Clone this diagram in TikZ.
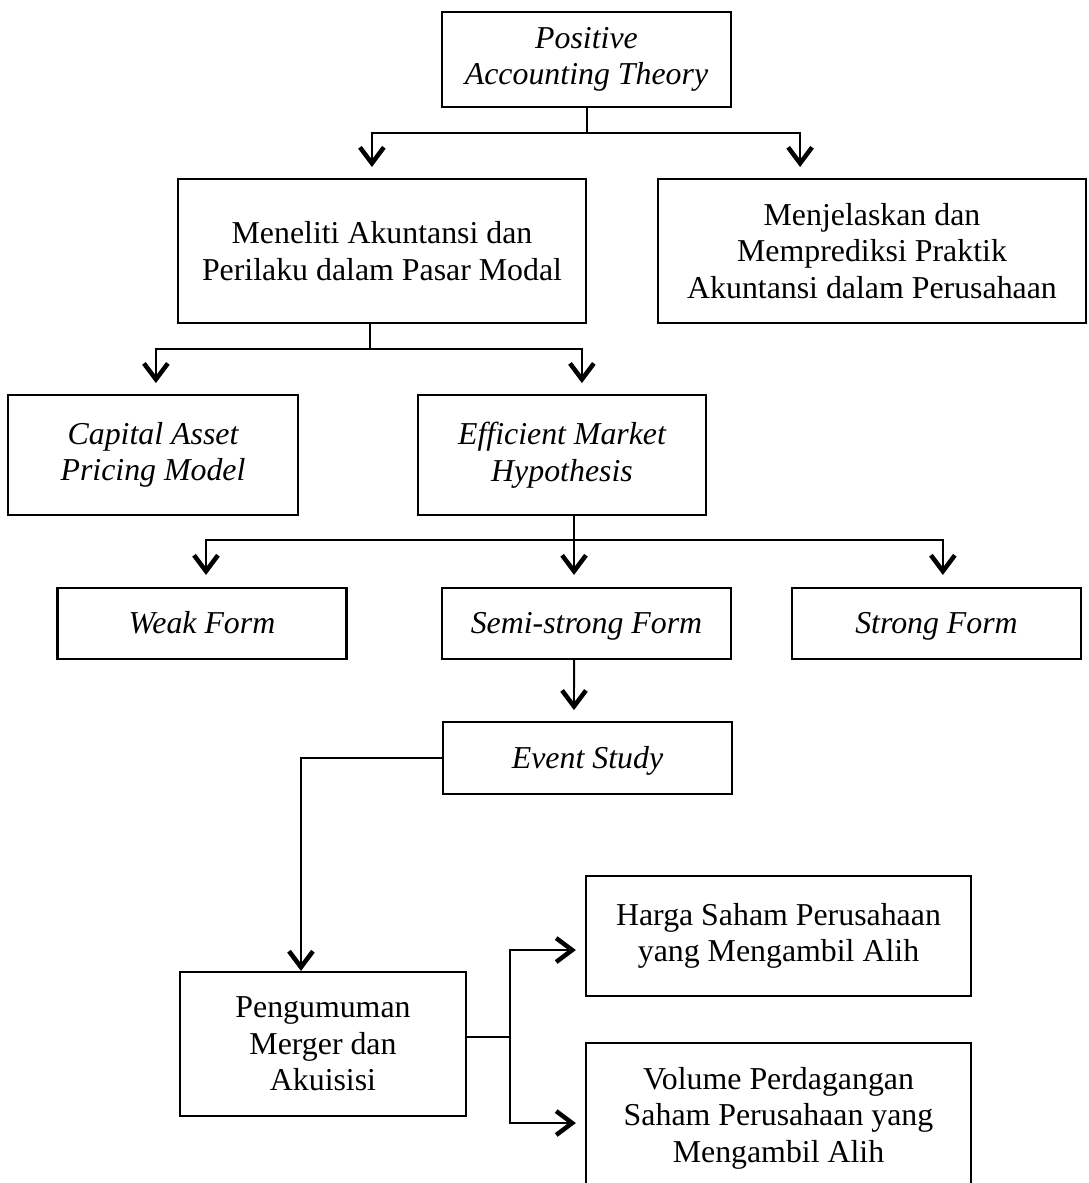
\documentclass[tikz,border=0pt]{standalone}
\usepackage{fontspec}
\setmainfont{Liberation Serif}
\usetikzlibrary{arrows.meta}

\begin{document}
\begin{tikzpicture}[
    x=0.3768pt, y=-0.3768pt,
    box/.style={rectangle, draw, line width=0.8pt, align=center, inner sep=2pt, font=\fontsize{12}{13.8}\selectfont},
    ibox/.style={box, font=\fontsize{12}{13.8}\selectfont\itshape},
    formbox/.style={ibox, text height=10pt, text depth=2.4pt},
    arrow/.style={-{Straight Barb[length=6pt, width=9pt, line width=1.7pt]}, line width=0.75pt}
]
    \useasboundingbox (0,0) rectangle (1088,1183);
    \clip (0,0) rectangle (1088,1183);

    \node[ibox, minimum width=108.9pt, minimum height=35.8pt] (pat) at (586.5,59.5) {Positive\\Accounting Theory};
    \node[box, minimum width=153.7pt, minimum height=54.3pt] (meneliti) at (382,251) {Meneliti Akuntansi dan\\Perilaku dalam Pasar Modal};
    \node[box, minimum width=161.3pt, minimum height=54.3pt] (menjelaskan) at (872,251) {Menjelaskan dan\\Memprediksi Praktik\\Akuntansi dalam Perusahaan};
    \node[ibox, minimum width=109.3pt, minimum height=45.2pt] (capm) at (153,455) {Capital Asset\\Pricing Model};
    \node[ibox, minimum width=108.5pt, minimum height=45.2pt] (emh) at (562,455) {Efficient Market\\Hypothesis};
    \node[formbox, minimum width=108.9pt, minimum height=26.8pt] (weak) at (202,623.5) {Weak Form};
    \node[formbox, minimum width=108.9pt, minimum height=26.8pt] (semi) at (586.5,623.5) {Semi-strong Form};
    \node[formbox, minimum width=108.9pt, minimum height=26.8pt] (strong) at (936.5,623.5) {Strong Form};
    \node[formbox, minimum width=108.9pt, minimum height=27.1pt] (event) at (587.5,758) {Event Study};
    \node[box, minimum width=107.8pt, minimum height=54.3pt] (pengumuman) at (323,1044) {Pengumuman\\Merger dan\\Akuisisi};
    \node[box, minimum width=145.1pt, minimum height=45.2pt] (harga) at (778.5,936) {Harga Saham Perusahaan\\yang Mengambil Alih};
    \node[box, minimum width=145.1pt, minimum height=56.5pt] (volume) at (778.5,1118) {Volume Perdagangan\\Saham Perusahaan yang\\Mengambil Alih};

    \draw[arrow, shorten >=4.1pt] (pat.south) -- ++(0,25) -| ([xshift=-3.8pt]meneliti.north);
    \draw[arrow, shorten >=4.1pt] (pat.south) -- ++(0,25) -| ([xshift=-27.1pt]menjelaskan.north);

    \draw[arrow, shorten >=4.1pt] ([xshift=-4.5pt]meneliti.south) -- ++(0,25) -| ([xshift=1.1pt]capm.north);
    \draw[arrow, shorten >=4.1pt] ([xshift=-4.5pt]meneliti.south) -- ++(0,25) -| ([xshift=7.5pt]emh.north);

    \draw[arrow, shorten >=4.5pt] ([xshift=4.5pt]emh.south) -- ++(0,24) -| ([xshift=1.5pt]weak.north);
    \draw[arrow, shorten >=4.5pt] ([xshift=4.5pt]emh.south) -- ++(0,24) -| ([xshift=-4.7pt]semi.north);
    \draw[arrow, shorten >=4.5pt] ([xshift=4.5pt]emh.south) -- ++(0,24) -| ([xshift=2.4pt]strong.north);

    \draw[arrow, shorten >=4.1pt] ([xshift=-4.7pt]semi.south) -- ([xshift=-5.1pt]event.north);
    \draw[arrow] (event.west) -| ([xshift=-8.3pt]pengumuman.north);

    \draw[arrow, shorten >=3.4pt] ([yshift=2.6pt]pengumuman.east) -- ++(43,0) |- ([yshift=-5.3pt]harga.west);
    \draw[arrow, shorten >=3.4pt] ([yshift=2.6pt]pengumuman.east) -- ++(43,0) |- ([yshift=-1.9pt]volume.west);
\end{tikzpicture}
\end{document}
